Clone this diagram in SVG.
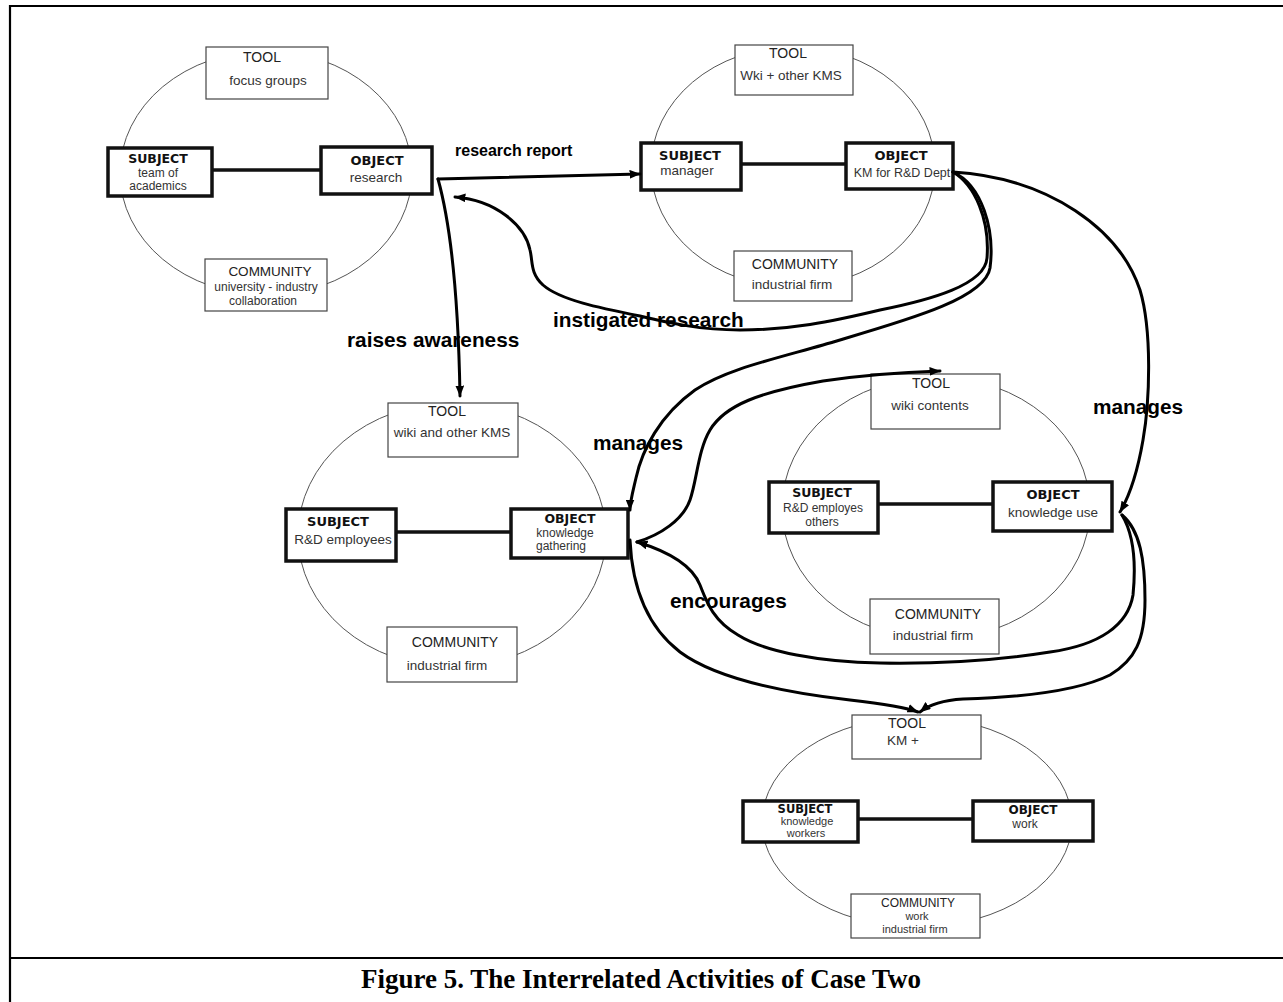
<svg xmlns="http://www.w3.org/2000/svg" width="1283" height="1002" viewBox="0 0 1283 1002">
<defs>
<style>
.ell{fill:none;stroke:#555;stroke-width:1}
.thin{fill:#fff;stroke:#444;stroke-width:1.2}
.thick{fill:#fff;stroke:#111;stroke-width:3.5}
.link{stroke:#111;stroke-width:3.5}
.hd{font-family:"DejaVu Sans",Verdana,sans-serif;font-weight:bold;font-size:13px;fill:#111;text-anchor:middle}
.lb{font-family:"Liberation Sans",Arial,sans-serif;font-size:13.5px;fill:#333;text-anchor:middle}
.sm{font-size:12px}
.xs{font-size:11px}
.tt{font-family:"Liberation Sans",Arial,sans-serif;font-size:14px;fill:#222;text-anchor:middle}
.conn{fill:none;stroke:#000;stroke-width:3;stroke-linecap:round}
.cl{font-family:"Liberation Sans",Arial,sans-serif;font-weight:bold;font-size:20.8px;fill:#000}
.frame{stroke:#000;stroke-width:2.2}
.cap{font-family:"Liberation Serif","Times New Roman",serif;font-weight:bold;font-size:27px;fill:#000;text-anchor:middle}
</style>
<marker id="ah" viewBox="0 0 10 8" refX="9.5" refY="4" markerWidth="11" markerHeight="9" markerUnits="userSpaceOnUse" orient="auto"><path d="M0,0 L10,4 L0,8 Z" fill="#000"/></marker>
</defs>
<rect width="1283" height="1002" fill="#fff"/>
<g id="frame">
<line class="frame" x1="10" y1="6" x2="1283" y2="6"/>
<line class="frame" x1="10" y1="5" x2="10" y2="1002"/>
<line class="frame" x1="10" y1="958" x2="1283" y2="958"/>
</g>

<g id="activity-1">
<ellipse class="ell" cx="266" cy="173" rx="146" ry="122"/>
<line class="link" x1="212" y1="170" x2="321" y2="170"/>
<g id="a1-tool"><rect class="thin" x="206" y="47" width="122" height="52"/><text class="tt" x="262" y="62">TOOL</text><text class="lb" x="268" y="85">focus groups</text></g>
<g id="a1-subject"><rect class="thick" x="108" y="148" width="104" height="48"/><text class="hd" x="158" y="163" style="font-size:12.5px">SUBJECT</text><text class="lb sm" x="158" y="177">team of</text><text class="lb sm" x="158" y="190">academics</text></g>
<g id="a1-object"><rect class="thick" x="321" y="147" width="111" height="47"/><text class="hd" x="377" y="165">OBJECT</text><text class="lb" x="376" y="182">research</text></g>
<g id="a1-community"><rect class="thin" x="205" y="259" width="122" height="52"/><text class="tt" x="270" y="276" style="font-size:13.5px">COMMUNITY</text><text class="lb sm" x="266" y="291">university - industry</text><text class="lb sm" x="263" y="305">collaboration</text></g>
</g>

<g id="activity-2">
<ellipse class="ell" cx="793" cy="167" rx="142" ry="120"/>
<line class="link" x1="741" y1="164" x2="846" y2="164"/>
<g id="a2-tool"><rect class="thin" x="735" y="45" width="118" height="50"/><text class="tt" x="788" y="58">TOOL</text><text class="lb" x="791" y="80">Wki + other KMS</text></g>
<g id="a2-subject"><rect class="thick" x="641" y="143" width="100" height="47"/><text class="hd" x="690" y="160">SUBJECT</text><text class="lb" x="687" y="175">manager</text></g>
<g id="a2-object"><rect class="thick" x="846" y="143" width="107" height="46"/><text class="hd" x="901" y="160">OBJECT</text><text class="lb" x="902" y="177" style="font-size:12.5px">KM for R&amp;D Dept</text></g>
<g id="a2-community"><rect class="thin" x="734" y="251" width="118" height="50"/><text class="tt" x="795" y="269">COMMUNITY</text><text class="lb" x="792" y="289">industrial firm</text></g>
</g>

<g id="activity-3">
<ellipse class="ell" cx="452" cy="535" rx="154" ry="132"/>
<line class="link" x1="396" y1="532" x2="511" y2="532"/>
<g id="a3-tool"><rect class="thin" x="388" y="403" width="130" height="54"/><text class="tt" x="447" y="416">TOOL</text><text class="lb" x="452" y="437">wiki and other KMS</text></g>
<g id="a3-subject"><rect class="thick" x="286" y="509" width="110" height="52"/><text class="hd" x="338" y="526">SUBJECT</text><text class="lb" x="343" y="544">R&amp;D employees</text></g>
<g id="a3-object"><rect class="thick" x="511" y="509" width="117" height="49"/><text class="hd" x="570" y="523" style="font-size:12.5px">OBJECT</text><text class="lb sm" x="565" y="537">knowledge</text><text class="lb sm" x="561" y="550">gathering</text></g>
<g id="a3-community"><rect class="thin" x="387" y="627" width="130" height="55"/><text class="tt" x="455" y="647">COMMUNITY</text><text class="lb" x="447" y="670">industrial firm</text></g>
</g>

<g id="activity-4">
<ellipse class="ell" cx="936" cy="508" rx="154" ry="131"/>
<line class="link" x1="878" y1="504" x2="993" y2="504"/>
<g id="a4-tool"><rect class="thin" x="871" y="374" width="129" height="55"/><text class="tt" x="931" y="388">TOOL</text><text class="lb" x="930" y="410">wiki contents</text></g>
<g id="a4-subject"><rect class="thick" x="769" y="482" width="109" height="51"/><text class="hd" x="822" y="497" style="font-size:12.5px">SUBJECT</text><text class="lb sm" x="823" y="512">R&amp;D employes</text><text class="lb sm" x="822" y="526">others</text></g>
<g id="a4-object"><rect class="thick" x="993" y="482" width="119" height="49"/><text class="hd" x="1053" y="499">OBJECT</text><text class="lb" x="1053" y="517">knowledge use</text></g>
<g id="a4-community"><rect class="thin" x="870" y="599" width="129" height="55"/><text class="tt" x="938" y="619">COMMUNITY</text><text class="lb" x="933" y="640">industrial firm</text></g>
</g>

<g id="activity-5">
<ellipse class="ell" cx="917" cy="822" rx="155" ry="105"/>
<line class="link" x1="858" y1="819" x2="973" y2="819"/>
<g id="a5-tool"><rect class="thin" x="852" y="715" width="129" height="44"/><text class="tt" x="907" y="728">TOOL</text><text class="lb" x="903" y="745">KM +</text></g>
<g id="a5-subject"><rect class="thick" x="743" y="801" width="115" height="41"/><text class="hd" x="805" y="813" style="font-size:11.5px">SUBJECT</text><text class="lb xs" x="807" y="825">knowledge</text><text class="lb xs" x="806" y="837">workers</text></g>
<g id="a5-object"><rect class="thick" x="973" y="801" width="120" height="40"/><text class="hd" x="1033" y="814" style="font-size:12px">OBJECT</text><text class="lb sm" x="1025" y="828">work</text></g>
<g id="a5-community"><rect class="thin" x="851" y="894" width="129" height="44"/><text class="tt" x="918" y="907" style="font-size:12px">COMMUNITY</text><text class="lb xs" x="917" y="920">work</text><text class="lb xs" x="915" y="933">industrial firm</text></g>
</g>

<g id="connectors">
<path class="conn" marker-end="url(#ah)" d="M438,179 L640,174"/>
<path class="conn" marker-end="url(#ah)" d="M438,179 C448,215 458,280 460,396"/>
<path class="conn" marker-end="url(#ah)" d="M953,172 C975,185 990,220 987,258 C985,285 930,300 880,310 C830,322 790,330 740,330 C700,330 670,323 640,316 C600,308 560,300 543,285 C530,273 533,262 530,250 C525,225 495,200 455,197"/>
<path class="conn" marker-end="url(#ah)" d="M953,172 C982,185 995,230 990,268 C985,300 900,322 823,345 C770,360 725,370 695,390 C660,415 642,450 636,478 C632,495 630,502 630,510"/>
<path class="conn" marker-end="url(#ah)" d="M630,540 C632,585 645,625 680,652 C715,678 780,692 850,700 C885,704 905,707 918,712"/>
<path class="conn" marker-end="url(#ah)" d="M637,542 C660,535 683,520 690,500 C697,480 698,450 710,430 C725,405 760,392 823,381 C870,374 910,372 940,371"/>
<path class="conn" marker-end="url(#ah)" d="M953,172 C1050,178 1120,230 1140,290 C1152,330 1150,400 1143,440 C1137,475 1130,495 1120,512"/>
<path class="conn" marker-end="url(#ah)" d="M1122,515 C1134,535 1136,565 1133,595 C1128,625 1100,645 1050,652 C1000,660 940,664 880,663 C820,662 765,652 738,635 C712,620 706,600 700,585 C692,565 670,552 637,542"/>
<path class="conn" marker-end="url(#ah)" d="M1122,515 C1140,530 1145,560 1145,600 C1145,640 1135,660 1110,675 C1080,690 1030,697 963,699 C945,700 930,704 920,712"/>
</g>

<g id="connector-labels">
<text class="cl" x="455" y="156" style="font-size:16px">research report</text>
<text class="cl" x="347" y="347">raises awareness</text>
<text class="cl" x="553" y="327">instigated research</text>
<text class="cl" x="593" y="450">manages</text>
<text class="cl" x="1093" y="414">manages</text>
<text class="cl" x="670" y="608">encourages</text>
</g>

<g id="caption">
<text class="cap" x="641" y="988">Figure 5. The Interrelated Activities of Case Two</text>
</g>
</svg>
